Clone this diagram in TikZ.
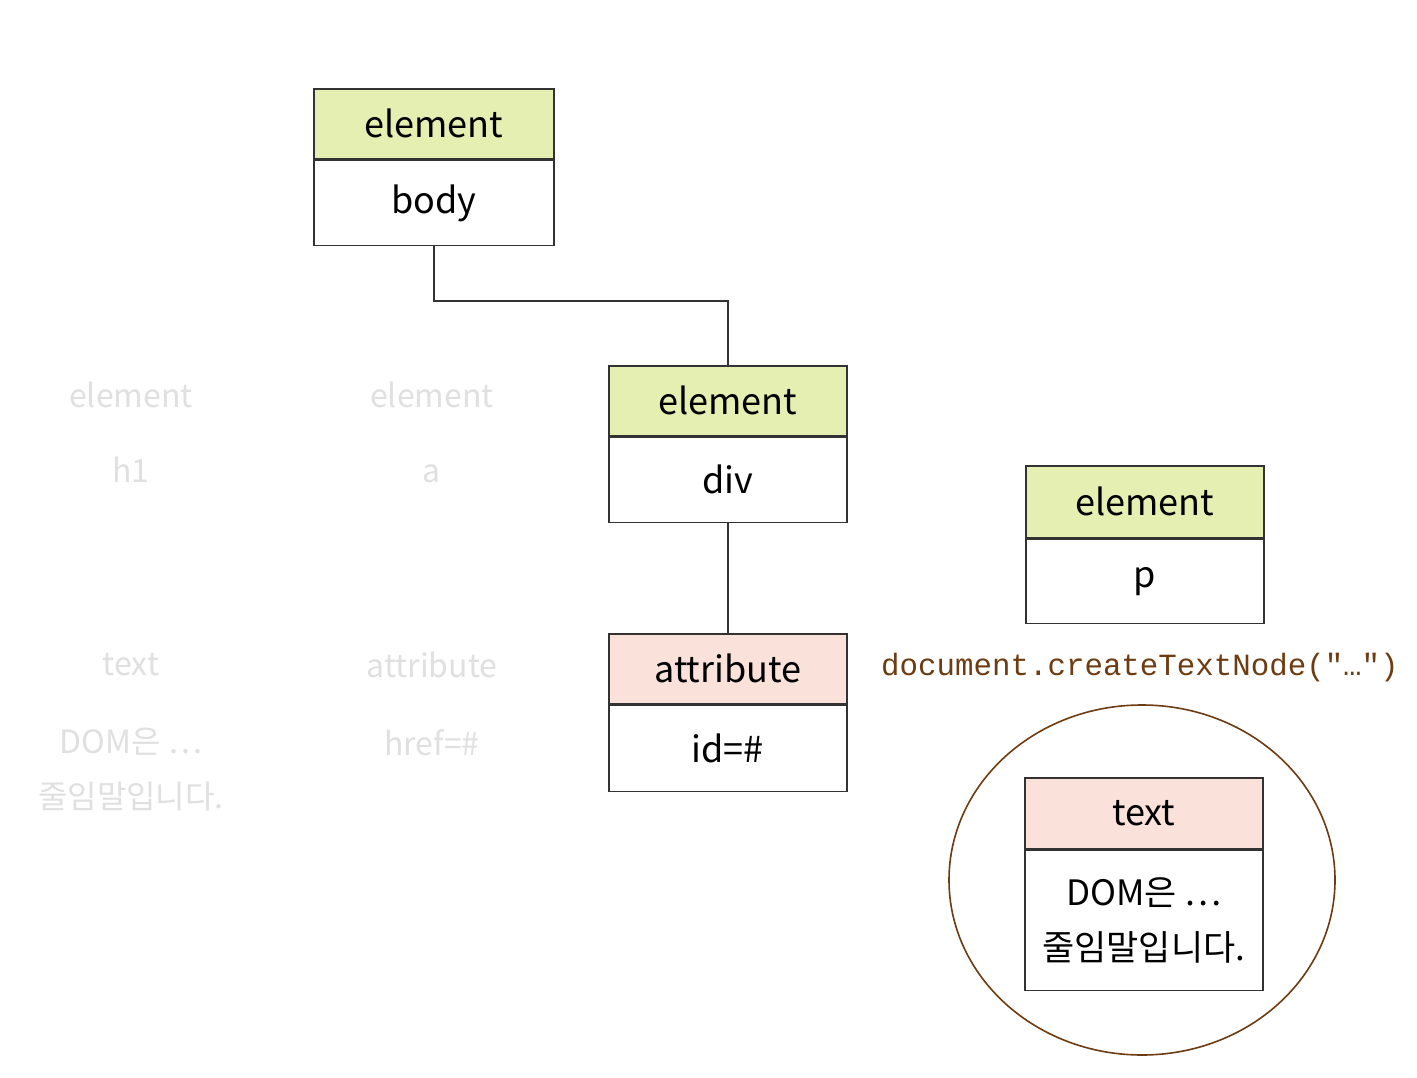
\documentclass[tikz,border=0pt]{standalone}
\usepackage{fontspec}
\usetikzlibrary{shapes.geometric}
\setmainfont{Noto Sans CJK KR}
\newfontfamily\codefont{Liberation Mono}
\definecolor{linec}{HTML}{333333}
\definecolor{greenh}{HTML}{E5EFB2}
\definecolor{pinkh}{HTML}{FAE1D9}
\definecolor{brownc}{HTML}{6E3C12}
\definecolor{ghost}{HTML}{E0E0E0}
\tikzset{
  boxpart/.style={draw=linec, line width=1.6pt, minimum width=240pt, inner sep=0pt,
    anchor=north west, text=black, font=\fontsize{36}{42}\selectfont},
  elhdr/.style={boxpart, fill=greenh, minimum height=70pt},
  athdr/.style={boxpart, fill=pinkh, minimum height=70pt},
  content/.style={boxpart, fill=white, minimum height=85pt},
  ghosttxt/.style={text=ghost, font=\fontsize{32}{40}\selectfont},
  link/.style={draw=linec, line width=1.6pt},
}
\begin{document}
\begin{tikzpicture}[x=1pt,y=-1pt]
\useasboundingbox[fill=white] (0,0) rectangle (1417,1078);
% ghost (faded) texts
\node[ghosttxt] (g1) at (131,395) {element};
\node[ghosttxt] (g2) at (131,470) {h1};
\node[ghosttxt] (g3) at (432,395) {element};
\node[ghosttxt] (g4) at (432,474) {a};
\node[ghosttxt] (g5) at (131,665) {text};
\node[ghosttxt] (g6) at (131,742) {DOM은 …};
\node[ghosttxt] (g7) at (131,797) {줄임말입니다.};
\node[ghosttxt] (g8) at (432,665) {attribute};
\node[ghosttxt] (g9) at (432,743) {href=\#};
% body
\node[elhdr] (bodyH) at (313,88) {element};
\node[content] (bodyC) at (bodyH.south west) {body};
% div
\node[elhdr, minimum width=238pt] (divH) at (608,365) {element};
\node[content, minimum width=238pt] (divC) at (divH.south west) {div};
% p
\node[elhdr, minimum width=238pt, minimum height=72pt] (pH) at (1025,465) {element};
\node[content, minimum width=238pt, minimum height=84pt] (pC) at (pH.south west) {p};
% attribute
\node[athdr, minimum width=238pt] (atH) at (608,633) {attribute};
\node[content, minimum width=238pt, minimum height=86pt] (atC) at (atH.south west) {id=\#};
% circle + text
\node[draw=brownc, line width=1.6pt, ellipse, minimum width=386pt, minimum height=350pt, inner sep=0pt] (circ) at (1142,880) {};
\node[athdr, minimum width=238pt, minimum height=71pt] (txH) at (1024,777) {text};
\node[content, minimum width=238pt, minimum height=140pt, align=center,
  font=\fontsize{35}{55}\selectfont] (txC) at (txH.south west) {DOM은 …\\줄임말입니다.};
% code label
\node[text=brownc, font=\codefont\fontsize{30.8}{36}\selectfont] (code) at (1140,668) {document.createTextNode("…")};
% connectors
\draw[link] (bodyC.south) -- ++(0,55) -| (divH.north);
\draw[link] (divC.south) -- (atH.north);
\end{tikzpicture}
\end{document}
